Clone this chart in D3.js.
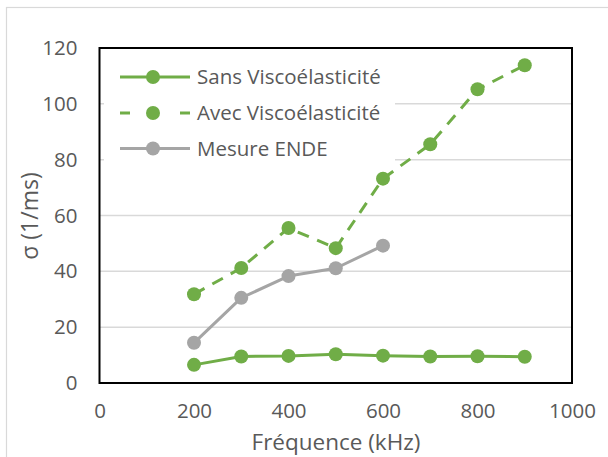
<!DOCTYPE html>
<html><head><meta charset="utf-8">
<script src="https://cdn.jsdelivr.net/npm/d3@7"></script>
<style>body{margin:0;background:#fff}svg{display:block}</style>
</head><body>
<svg id="c" width="608" height="457"></svg>
<script>
const freqs = [200, 300, 400, 500, 600, 700, 800, 900];
const sansVisco = [6.5, 9.5, 9.7, 10.3, 9.8, 9.5, 9.6, 9.4];
const avecVisco = [31.8, 41.2, 55.5, 48.3, 73.2, 85.5, 105.2, 113.8];
const mesureFreqs = [200, 300, 400, 500, 600];
const mesureEnde = [14.4, 30.5, 38.3, 41.1, 49.2];
const xTicks = [0, 200, 400, 600, 800, 1000];
const yTicks = [0, 20, 40, 60, 80, 100, 120];
const seriesNames = ["Sans Viscoélasticité", "Avec Viscoélasticité", "Mesure ENDE"];

const svg = d3.select("#c");
const font = "'Open Sans', sans-serif";
const L = 99.5, R = 572, T = 48, B = 383;
const x = d3.scaleLinear().domain([0, 1000]).range([L, R]);
const y = d3.scaleLinear().domain([0, 120]).range([B, T]);

// outer chart border
svg.append("rect").attr("x", 6.5).attr("y", 7.5).attr("width", 640).attr("height", 480)
  .attr("fill", "none").attr("stroke", "#d9d9d9").attr("stroke-width", 1.2);

// gridlines
svg.append("g").selectAll("line").data(yTicks.filter(d => d > 0 && d < 120)).join("line")
  .attr("x1", L).attr("x2", R).attr("y1", d => y(d)).attr("y2", d => y(d))
  .attr("stroke", "#d9d9d9").attr("stroke-width", 1.5);

// axes (labels only)
const xAxis = svg.append("g").attr("transform", `translate(0,${B})`)
  .call(d3.axisBottom(x).tickValues(xTicks).tickFormat(d3.format("d")).tickSize(0).tickPadding(20));
const yAxis = svg.append("g").attr("transform", `translate(${L},0)`)
  .call(d3.axisLeft(y).tickValues(yTicks).tickFormat(d3.format("d")).tickSize(0).tickPadding(22));
[xAxis, yAxis].forEach(a => {
  a.select(".domain").remove();
  a.selectAll("text").attr("font-family", font).attr("font-size", 20.5).attr("fill", "#595959");
});

// plot area border
svg.append("rect").attr("x", L).attr("y", T).attr("width", R - L).attr("height", B - T)
  .attr("fill", "none").attr("stroke", "#000").attr("stroke-width", 2);

// axis titles
svg.append("text").attr("x", 336).attr("y", 450).attr("text-anchor", "middle")
  .attr("font-family", font).attr("font-size", 22.5).attr("fill", "#595959").text("Fréquence (kHz)");
svg.append("text").attr("transform", "translate(38,216) rotate(-90)").attr("text-anchor", "middle")
  .attr("font-family", font).attr("font-size", 23).attr("fill", "#595959").text("σ (1/ms)");

const line = d3.line().x(d => x(d[0])).y(d => y(d[1]));
const series = [
  {name: seriesNames[0], pts: d3.zip(freqs, sansVisco), color: "#70ad47", dash: null},
  {name: seriesNames[1], pts: d3.zip(freqs, avecVisco), color: "#70ad47", dash: "12,9"},
  {name: seriesNames[2], pts: d3.zip(mesureFreqs, mesureEnde), color: "#a5a5a5", dash: null}
];

// legend background
svg.append("rect").attr("x", 104).attr("y", 56).attr("width", 291).attr("height", 110).attr("fill", "#fff");

const order = [0, 2, 1];
order.forEach(i => {
  const s = series[i];
  svg.append("path").datum(s.pts).attr("d", line).attr("fill", "none")
    .attr("stroke", s.color).attr("stroke-width", 3).attr("stroke-dasharray", s.dash)
    .attr("stroke-linejoin", "round");
  svg.append("g").selectAll("circle").data(s.pts).join("circle")
    .attr("cx", d => x(d[0])).attr("cy", d => y(d[1])).attr("r", 7).attr("fill", s.color);
});

// legend
const ly = [77, 113, 148.5];
series.forEach((s, i) => {
  const g = svg.append("g");
  g.append("line").attr("x1", 120).attr("x2", 190).attr("y1", ly[i]).attr("y2", ly[i])
    .attr("stroke", s.color).attr("stroke-width", 3)
    .attr("stroke-dasharray", s.dash ? "10,25,0,200" : null);
  if (s.dash) {
    g.append("line").attr("x1", 180).attr("x2", 190).attr("y1", ly[i]).attr("y2", ly[i])
      .attr("stroke", s.color).attr("stroke-width", 3);
  }
  g.append("circle").attr("cx", 153).attr("cy", ly[i]).attr("r", 7).attr("fill", s.color);
  g.append("text").attr("x", 197).attr("y", ly[i]).attr("dy", "0.35em")
    .attr("font-family", font).attr("font-size", 20.5).attr("fill", "#595959").text(s.name);
});
</script>
</body></html>
